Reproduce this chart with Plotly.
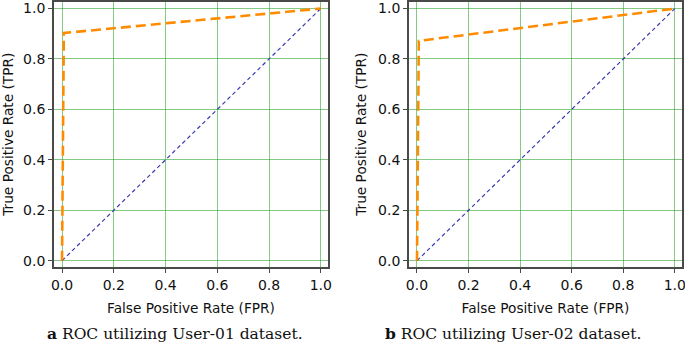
import plotly.graph_objects as go

# Data
fpr_user01 = [0.0, 0.007, 1.0]
tpr_user01 = [0.0, 0.903, 1.0]
fpr_user02 = [0.0, 0.007, 1.0]
tpr_user02 = [0.0, 0.872, 1.0]
chance_x = [0.0, 1.0]
chance_y = [0.0, 1.0]
tick_vals = [0.0, 0.2, 0.4, 0.6, 0.8, 1.0]
tick_text = ["0.0", "0.2", "0.4", "0.6", "0.8", "1.0"]
captions = ["<b>a</b> ROC utilizing User-01 dataset.", "<b>b</b> ROC utilizing User-02 dataset."]
x_title = "False Positive Rate (FPR)"
y_title = "True Positive Rate (TPR)"

W, H = 685, 345
fig = go.Figure()

panels = [
    (fpr_user01, tpr_user01, "x", "y", [54 / W, 328 / W], 174.5 / W),
    (fpr_user02, tpr_user02, "x2", "y2", [409 / W, 682 / W], 513 / W),
]
ydom = [1 - 267 / H, 1 - 1.5 / H]

for i, (fx, ty, xa, ya, xdom, capx) in enumerate(panels):
    fig.add_trace(go.Scatter(x=chance_x, y=chance_y, mode="lines", xaxis=xa, yaxis=ya,
                             line=dict(color="#3b3bb0", width=1.2, dash="4px,3px"), showlegend=False))
    fig.add_trace(go.Scatter(x=fx, y=ty, mode="lines", xaxis=xa, yaxis=ya,
                             line=dict(color="#ff8c00", width=2.6, dash="10px,5px"), showlegend=False))
    suffix = "" if i == 0 else "2"
    axcommon = dict(showline=True, mirror=True, linecolor="#4a4a4a", linewidth=1.8,
                    ticks="outside", ticklen=4, tickcolor="#4a4a4a", tickwidth=1.2,
                    showgrid=True, gridcolor="rgba(50,165,50,0.6)", gridwidth=1,
                    zeroline=False, tickvals=tick_vals, ticktext=tick_text, automargin=False,
                    ticklabeloverflow="allow",
                    tickfont=dict(family="DejaVu Sans", size=14, color="#111111"))
    fig.layout["xaxis" + suffix] = dict(axcommon, domain=xdom, range=[-0.031, 1.028],
                                        anchor="y" + suffix,
                                        title=dict(text=x_title, standoff=12,
                                                   font=dict(family="DejaVu Sans", size=13.7, color="#111111")))
    fig.layout["yaxis" + suffix] = dict(axcommon, domain=ydom, range=[-0.025, 1.028],
                                        anchor="x" + suffix,
                                        title=dict(text=y_title, standoff=8,
                                                   font=dict(family="DejaVu Sans", size=13.7, color="#111111")))
    fig.add_annotation(text=captions[i], xref="paper", yref="paper",
                       x=capx, y=1 - 333 / H, xanchor="center", yanchor="middle",
                       showarrow=False, font=dict(family="DejaVu Serif", size=15.5, color="#111111"))

fig.update_layout(width=W, height=H, margin=dict(l=0, r=0, t=0, b=0),
                  paper_bgcolor="white", plot_bgcolor="white")
fig.write_html("out.html", config={"displayModeBar": False},
               post_script="document.body.style.margin='0';document.body.style.overflow='hidden';")
